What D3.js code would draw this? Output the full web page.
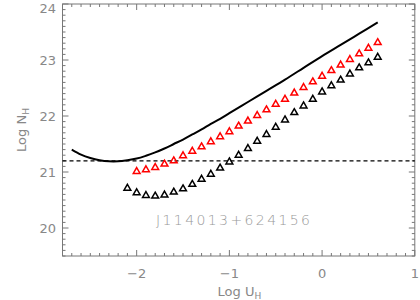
<!DOCTYPE html>
<html>
<head>
<meta charset="utf-8">
<script src="https://cdn.jsdelivr.net/npm/d3@7"></script>
<style>
  body { margin: 0; background: #fff; }
  text { font-family: "DejaVu Sans", sans-serif; fill: #888; }
</style>
</head>
<body>
<div id="chart"></div>
<script>
// model curve (black solid line)
const curveU = [-2.7, -2.6, -2.5, -2.4, -2.3, -2.2, -2.1, -2.0, -1.9, -1.8, -1.7, -1.6, -1.5, -1.4, -1.3, -1.2, -1.1, -1.0, -0.8, -0.6, -0.4, -0.2, 0.0, 0.2, 0.4, 0.6];
const curveN = [21.40, 21.31, 21.25, 21.21, 21.19, 21.19, 21.21, 21.24, 21.29, 21.35, 21.42, 21.50, 21.58, 21.67, 21.76, 21.86, 21.95, 22.05, 22.25, 22.45, 22.65, 22.86, 23.07, 23.27, 23.47, 23.67];

// red triangles
const redU = [-2.0, -1.9, -1.8, -1.7, -1.6, -1.5, -1.4, -1.3, -1.2, -1.1, -1.0, -0.9, -0.8, -0.7, -0.6, -0.5, -0.4, -0.3, -0.2, -0.1, 0.0, 0.1, 0.2, 0.3, 0.4, 0.5, 0.6];
const redN = [21.01, 21.04, 21.08, 21.14, 21.20, 21.29, 21.37, 21.45, 21.54, 21.63, 21.72, 21.82, 21.91, 22.01, 22.11, 22.21, 22.30, 22.41, 22.51, 22.61, 22.71, 22.81, 22.91, 23.01, 23.11, 23.21, 23.31];

// black triangles
const blackU = [-2.1, -2.0, -1.9, -1.8, -1.7, -1.6, -1.5, -1.4, -1.3, -1.2, -1.1, -1.0, -0.9, -0.8, -0.7, -0.6, -0.5, -0.4, -0.3, -0.2, -0.1, 0.0, 0.1, 0.2, 0.3, 0.4, 0.5, 0.6];
const blackN = [20.71, 20.63, 20.58, 20.57, 20.59, 20.64, 20.70, 20.78, 20.87, 20.96, 21.07, 21.18, 21.30, 21.42, 21.55, 21.67, 21.80, 21.93, 22.06, 22.18, 22.30, 22.43, 22.54, 22.64, 22.75, 22.86, 22.95, 23.05];

// horizontal dashed threshold
const thresholdN = 21.2;

const xTicks = [-2, -1, 0, 1];
const yTicks = [20, 21, 22, 23, 24];
const label = "J114013+624156";

const width = 420, height = 300;
const plotLeft = 62.5, plotRight = 414.8, plotTop = 4, plotBottom = 256;

const svg = d3.select("#chart").append("svg")
  .attr("width", width)
  .attr("height", height);

const x = d3.scaleLinear().domain([-2.8, 1.0]).range([plotLeft, plotRight]);
const y = d3.scaleLinear().domain([19.5, 24]).range([plotBottom, plotTop]);

// IDL-style frame with ticks on all four sides
const axisColor = "#777";
const minorX = d3.range(-28, 11).map(v => v / 10);
const minorY = d3.range(195, 241).map(v => v / 10);

function tickLen(v) {
  return Math.abs(v - Math.round(v)) < 1e-6 ? 6 : 3;
}

const frame = svg.append("g").attr("stroke", axisColor).attr("stroke-width", 1);
frame.append("rect")
  .attr("x", plotLeft).attr("y", plotTop)
  .attr("width", plotRight - plotLeft).attr("height", plotBottom - plotTop)
  .attr("fill", "none");

minorX.forEach(v => {
  const px = x(v), l = tickLen(v);
  frame.append("line").attr("x1", px).attr("x2", px).attr("y1", plotBottom).attr("y2", plotBottom - l);
  frame.append("line").attr("x1", px).attr("x2", px).attr("y1", plotTop).attr("y2", plotTop + l);
});
minorY.forEach(v => {
  const py = y(v), l = tickLen(v);
  frame.append("line").attr("y1", py).attr("y2", py).attr("x1", plotLeft).attr("x2", plotLeft + l);
  frame.append("line").attr("y1", py).attr("y2", py).attr("x1", plotRight).attr("x2", plotRight - l);
});

// tick labels
svg.selectAll("text.xt")
  .data(xTicks)
  .enter().append("text")
  .attr("class", "xt")
  .attr("x", d => x(d))
  .attr("y", 278)
  .attr("text-anchor", "middle")
  .style("font-size", "13px")
  .text(d => d < 0 ? "\u2212" + Math.abs(d) : d);

svg.selectAll("text.yt")
  .data(yTicks)
  .enter().append("text")
  .attr("class", "yt")
  .attr("x", 56)
  .attr("y", d => y(d) + 5 + (d === 24 ? 4 : 0))
  .attr("text-anchor", "end")
  .style("font-size", "13px")
  .text(d => d);

// axis titles
const xt = svg.append("text")
  .attr("x", x(-1) + 10)
  .attr("y", 296)
  .attr("text-anchor", "middle")
  .style("font-size", "13px");
xt.append("tspan").text("Log U");
xt.append("tspan").attr("dy", 3).style("font-size", "9px").text("H");

const yt = svg.append("text")
  .attr("transform", `translate(26, ${y(22) + 14}) rotate(-90)`)
  .attr("text-anchor", "middle")
  .style("font-size", "13px");
yt.append("tspan").text("Log N");
yt.append("tspan").attr("dy", 3).style("font-size", "9px").text("H");

// dashed threshold
svg.append("line")
  .attr("x1", plotLeft).attr("x2", plotRight)
  .attr("y1", y(thresholdN)).attr("y2", y(thresholdN))
  .attr("stroke", "#000")
  .attr("stroke-width", 1.2)
  .attr("stroke-dasharray", "4,3");

// model curve
const line = d3.line()
  .x(d => x(d[0]))
  .y(d => y(d[1]))
  .curve(d3.curveCatmullRom);

svg.append("path")
  .attr("d", line(d3.zip(curveU, curveN)))
  .attr("fill", "none")
  .attr("stroke", "#000")
  .attr("stroke-width", 2);

// open triangles
const tri = d3.symbol().type(d3.symbolTriangle).size(20);

function drawTriangles(us, ns, color) {
  svg.append("g").selectAll("path")
    .data(d3.zip(us, ns))
    .enter().append("path")
    .attr("d", tri)
    .attr("transform", d => `translate(${x(d[0])}, ${y(d[1])})`)
    .attr("fill", "none")
    .attr("stroke", color)
    .attr("stroke-width", 1.5);
}

drawTriangles(redU, redN, "#f00");
drawTriangles(blackU, blackN, "#000");

// object name
svg.append("text")
  .attr("x", 156)
  .attr("y", 225)
  .attr("textLength", 154)
  .attr("lengthAdjust", "spacing")
  .style("font-size", "14px")
  .style("font-weight", "200")
  .style("fill", "#999")
  .text(label);
</script>
</body>
</html>
